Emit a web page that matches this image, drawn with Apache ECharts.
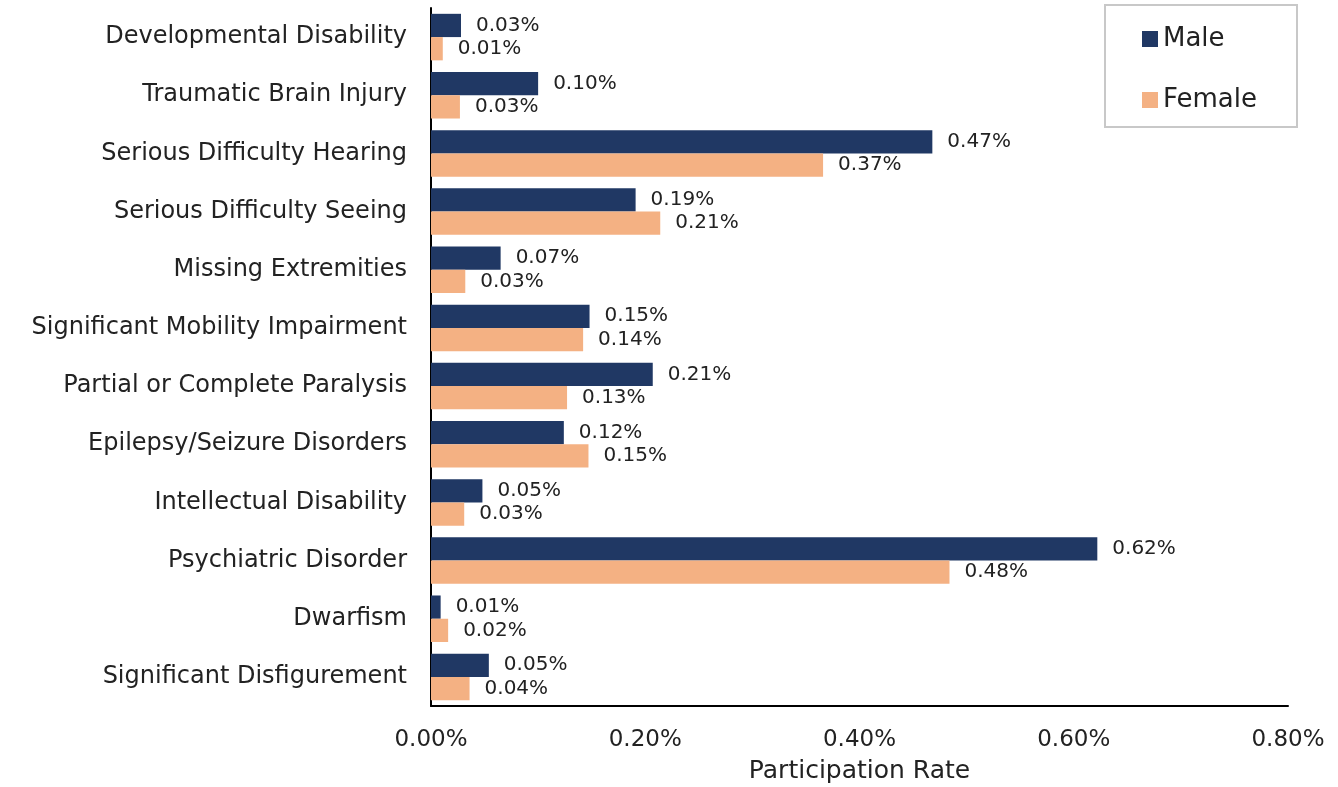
<!DOCTYPE html>
<html>
<head>
<meta charset="utf-8">
<script src="https://cdn.jsdelivr.net/npm/echarts@6/dist/echarts.min.js"></script>
<style>
  html, body { margin: 0; padding: 0; background: #fff; }
  #chart { width: 1338px; height: 787px; }
</style>
</head>
<body>
<div id="chart"></div>
<script>
// categories top to bottom
var categories = [
  "Developmental Disability",
  "Traumatic Brain Injury",
  "Serious Difficulty Hearing",
  "Serious Difficulty Seeing",
  "Missing Extremities",
  "Significant Mobility Impairment",
  "Partial or Complete Paralysis",
  "Epilepsy/Seizure Disorders",
  "Intellectual Disability",
  "Psychiatric Disorder",
  "Dwarfism",
  "Significant Disfigurement"
];
// participation rate, in percent
var maleValues = [0.028, 0.100, 0.468, 0.191, 0.065, 0.148, 0.207, 0.124, 0.048, 0.622, 0.009, 0.054];
var femaleValues = [0.011, 0.027, 0.366, 0.214, 0.032, 0.142, 0.127, 0.147, 0.031, 0.484, 0.016, 0.036];
var xTicks = [0, 0.2, 0.4, 0.6, 0.8];

var FONT = "DejaVu Sans";
var labelOption = {
  show: true,
  position: "right",
  distance: 15,
  fontFamily: FONT,
  fontSize: 20,
  color: "#222",
  formatter: function (p) { return p.value.toFixed(2) + "%"; }
};

var option = {
  animation: false,
  textStyle: { fontFamily: FONT },
  grid: { left: 431, right: 50, top: 8, bottom: 81, containLabel: false, outerBoundsMode: "none" },
  legend: {
    orient: "vertical",
    right: 41,
    top: 5,
    padding: [21, 40, 14, 37],
    itemGap: 35,
    itemWidth: 16,
    itemHeight: 16,
    borderColor: "#c8c8c8",
    borderWidth: 2,
    icon: "rect",
    textStyle: { fontFamily: FONT, fontSize: 26, color: "#222" },
    data: ["Male", "Female"]
  },
  xAxis: {
    type: "value",
    min: xTicks[0],
    max: xTicks[xTicks.length - 1],
    interval: 0.2,
    name: "Participation Rate",
    nameLocation: "middle",
    nameGap: 53,
    nameTextStyle: { fontFamily: FONT, fontSize: 25, color: "#222" },
    axisLine: { show: true, lineStyle: { color: "#000", width: 2 } },
    axisTick: { show: false },
    splitLine: { show: false },
    axisLabel: {
      margin: 23,
      fontFamily: FONT,
      fontSize: 23,
      color: "#222",
      formatter: function (v) { return v.toFixed(2) + "%"; }
    }
  },
  yAxis: {
    type: "category",
    inverse: true,
    data: categories,
    axisLine: { show: true, lineStyle: { color: "#000", width: 2 } },
    axisTick: { show: false },
    axisLabel: { margin: 24, fontFamily: FONT, fontSize: 24, color: "#222" }
  },
  series: [
    {
      name: "Male",
      type: "bar",
      data: maleValues,
      barGap: 0,
      barCategoryGap: "20%",
      itemStyle: { color: "#203864" },
      label: labelOption
    },
    {
      name: "Female",
      type: "bar",
      data: femaleValues,
      barGap: 0,
      barCategoryGap: "20%",
      itemStyle: { color: "#f4b183" },
      label: labelOption
    }
  ]
};

var myChart = echarts.init(document.getElementById("chart"));
myChart.setOption(option);
</script>
</body>
</html>
